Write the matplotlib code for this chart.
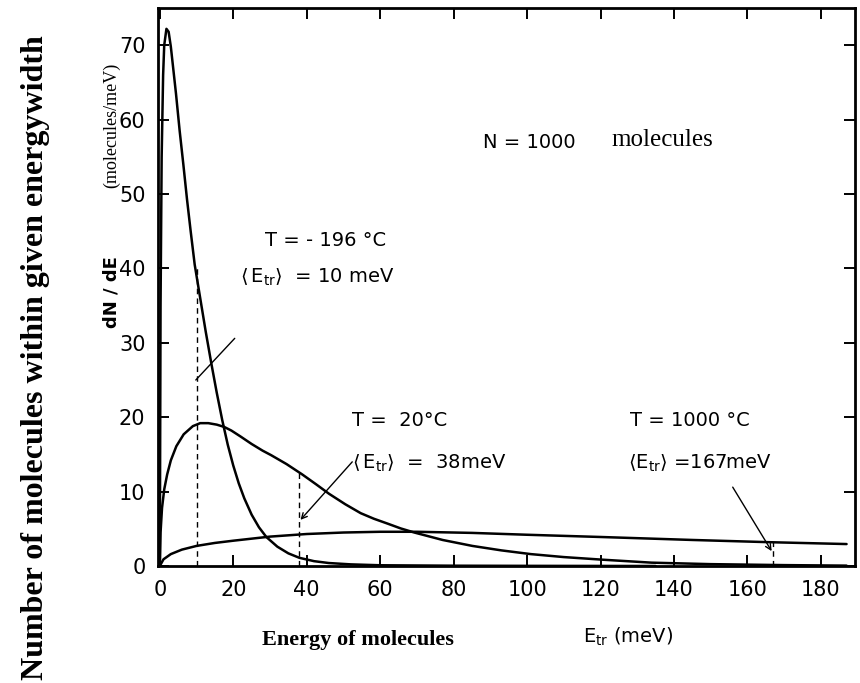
import matplotlib

matplotlib.use("Agg")
import matplotlib.pyplot as plt

# Energy distribution curves (E in meV, dN/dE in molecules/meV)
cold_energy = [0, 0.2, 0.5, 0.9, 1.2, 1.8, 2.4, 3.0, 3.4, 4.4, 5.4, 6.4, 7.4, 8.4, 9.5, 11, 12.5, 14, 15.5, 17, 18.5, 20, 21.5, 23, 25, 27, 29, 32, 35, 38, 42, 46, 52, 60, 80, 100, 135]
cold_counts = [0, 35, 55, 66, 70, 72.2, 71.8, 69.8, 68, 63.5, 58.5, 54, 49.3, 45, 40.5, 36, 31.5, 27.3, 23.3, 19.6, 16.3, 13.5, 11.1, 9.1, 6.9, 5.2, 3.9, 2.6, 1.7, 1.1, 0.65, 0.4, 0.22, 0.1, 0.04, 0.02, 0]

room_energy = [0, 0.2, 0.6, 1.2, 2, 3, 4.5, 6.5, 9, 11, 13.2, 15.5, 17.5, 19.5, 22, 25, 28, 30.3, 34.5, 38.8, 42.5, 46.1, 50.5, 54.7, 58.3, 62, 65.6, 69.3, 77, 85.1, 93, 101, 110, 120.5, 133.9, 150, 170, 187]
room_counts = [0, 4.5, 7.8, 10.3, 12.3, 14.2, 16.1, 17.7, 18.8, 19.2, 19.2, 19.0, 18.7, 18.2, 17.4, 16.4, 15.5, 14.9, 13.7, 12.3, 11.0, 9.7, 8.3, 7.1, 6.35, 5.7, 5.05, 4.5, 3.5, 2.7, 2.1, 1.6, 1.2, 0.85, 0.45, 0.25, 0.12, 0.05]

hot_energy = [0, 1, 3, 6, 10, 15, 20, 30, 40, 50, 60, 70, 85, 100, 120, 145, 166, 187]
hot_counts = [0, 0.9, 1.6, 2.2, 2.7, 3.1, 3.4, 3.95, 4.3, 4.5, 4.6, 4.6, 4.45, 4.2, 3.9, 3.5, 3.2, 2.95]

# mean energies marked with dashed lines: (E, height of the curve there)
mean_marks = [(10, 40.0), (38, 12.5), (167, 3.2)]

x_ticks = [0, 20, 40, 60, 80, 100, 120, 140, 160, 180]
y_ticks = [0, 10, 20, 30, 40, 50, 60, 70]

sans = "DejaVu Sans"
serif = "Liberation Serif"
plt.rcParams["mathtext.default"] = "regular"

fig = plt.figure(figsize=(8.6, 6.83), dpi=100)
ax = fig.add_axes([0.1837, 0.1713, 0.8105, 0.817])

for energy, counts in [(cold_energy, cold_counts), (room_energy, room_counts), (hot_energy, hot_counts)]:
    ax.plot(energy, counts, color="black", lw=1.8, solid_capstyle="round", solid_joinstyle="round")

for e_mean, height in mean_marks:
    ax.plot([e_mean, e_mean], [0, height], color="black", lw=1.0, dashes=(4, 3))

ax.set_xlim(-0.5, 189.3)
ax.set_ylim(0, 75)
ax.set_xticks(x_ticks)
ax.set_yticks(y_ticks)
ax.tick_params(direction="in", length=8, width=1.4, top=True, right=True, labelsize=15)
ax.tick_params(axis="x", pad=10)
ax.tick_params(axis="y", pad=9)
for lbl in ax.get_xticklabels() + ax.get_yticklabels():
    lbl.set_family(sans)
for spine in ax.spines.values():
    spine.set_linewidth(2)

# labels inside the plot
ax.text(88, 56.9, "N = 1000", fontsize=14, family=sans, va="center")
ax.text(123.1, 57.3, "molecules", fontsize=18, family=serif, va="center")

ax.text(28.6, 43.8, "T = - 196 °C", fontsize=14, family=sans, va="center")
ax.text(21.8, 38.8, r"$\langle\,E_{tr}\rangle$  = 10 meV", fontsize=14, family=sans, va="center")
ax.annotate("", xy=(9.8, 25.0), xytext=(20.4, 30.6),
            arrowprops=dict(arrowstyle="-", lw=1.0, color="black", shrinkA=0, shrinkB=0))

ax.text(52.3, 19.6, "T =  20°C", fontsize=14, family=sans, va="center")
ax.text(52.3, 13.8, r"$\langle\,E_{tr}\rangle$  =  38meV", fontsize=14, family=sans, va="center")
ax.annotate("", xy=(38.3, 6.2), xytext=(52.4, 14.0),
            arrowprops=dict(arrowstyle="->", lw=1.0, color="black", shrinkA=0, shrinkB=0))

ax.text(128, 19.6, "T = 1000 °C", fontsize=14, family=sans, va="center")
ax.text(127.5, 13.8, r"$\langle E_{tr}\rangle$ =167meV", fontsize=14, family=sans, va="center")
ax.annotate("", xy=(166.6, 2.0), xytext=(156.0, 10.6),
            arrowprops=dict(arrowstyle="->", lw=1.0, color="black", shrinkA=0, shrinkB=0))

# axis labels (placed by hand like in the original scan)
fig.text(0.678, 0.067, r"E$_{tr}$ (meV)", fontsize=14, family=sans, va="center")
fig.text(0.416, 0.063, "Energy of molecules", fontsize=16, family=serif, weight="bold", ha="center", va="center")
fig.text(0.130, 0.572, "dN / dE", fontsize=13, family=sans, weight="bold", rotation=90, ha="center", va="center")
fig.text(0.130, 0.817, "(molecules/meV)", fontsize=13, family=serif, rotation=90, ha="center", va="center")
fig.text(0.041, 0.476, "Number of molecules within given energywidth", fontsize=23, family=serif,
         weight="bold", rotation=90, ha="center", va="center")

fig.savefig("out.png", dpi=100)
